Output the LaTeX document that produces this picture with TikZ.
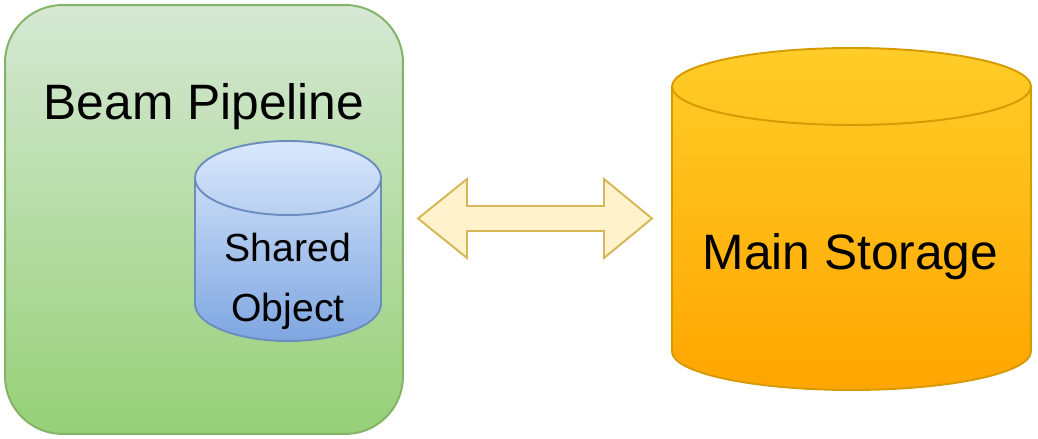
\documentclass[tikz,border=0pt]{standalone}
\usepackage{fontspec}
\setmainfont{Liberation Sans}
\usetikzlibrary{calc}

\definecolor{greentop}{HTML}{D5E8D4}
\definecolor{greenbot}{HTML}{97D077}
\definecolor{greenline}{HTML}{82B366}
\definecolor{bluetop}{HTML}{DAE8FC}
\definecolor{bluebot}{HTML}{7EA6E0}
\definecolor{blueline}{HTML}{6C8EBF}
\definecolor{orangetop}{HTML}{FFCD28}
\definecolor{orangebot}{HTML}{FFA500}
\definecolor{orangeline}{HTML}{D79B00}
\definecolor{arrowfill}{HTML}{FFF2CC}
\definecolor{arrowline}{HTML}{D6B656}

\begin{document}
\begin{tikzpicture}[x=0.02cm,y=0.02cm,line width=1.1pt,
  bigtext/.style={font=\fontsize{28.3pt}{33pt}\selectfont,inner sep=0pt,anchor=base},
  smalltext/.style={font=\fontsize{22.3pt}{27pt}\selectfont,inner sep=0pt,anchor=base}]
  \useasboundingbox (0,0) rectangle (1038,439);
  \node [draw=greenline,top color=greentop,bottom color=greenbot,rounded corners=1.15cm,
    minimum width=7.96cm,minimum height=8.58cm,inner sep=0pt] (pipeline) at (204,219.5) {};
  \node [bigtext] (pipelinetext) at (204,319) {Beam Pipeline};
  \draw [blueline,top color=bluetop,bottom color=bluebot] (195,261) -- (195,135)
    arc [start angle=180,end angle=360,x radius=1.86cm,y radius=0.74cm] -- (381,261)
    arc [start angle=0,end angle=180,x radius=1.86cm,y radius=0.74cm] -- cycle;
  \draw [blueline] (195,261) arc [start angle=180,end angle=360,x radius=1.86cm,y radius=0.74cm];
  \node [smalltext] (shared) at (288,177) {Shared};
  \node [smalltext] (object) at (288,117) {Object};
  \draw [orangeline,top color=orangetop,bottom color=orangebot] (672,352.5) -- (672,87.5)
    arc [start angle=180,end angle=360,x radius=3.59cm,y radius=0.77cm] -- (1031,352.5)
    arc [start angle=0,end angle=180,x radius=3.59cm,y radius=0.77cm] -- cycle;
  \draw [orangeline] (672,352.5) arc [start angle=180,end angle=360,x radius=3.59cm,y radius=0.77cm];
  \node [bigtext] (storage) at (850.5,169) {Main Storage};
  \coordinate (ltip) at (418,220.5);
  \coordinate (rtip) at (652,220.5);
  \draw [arrowline,fill=arrowfill] (ltip) -- (467,260) -- (467,233) -- (604,233) -- (604,260)
    -- (rtip) -- (604,181) -- (604,208) -- (467,208) -- (467,181) -- cycle;
\end{tikzpicture}
\end{document}
